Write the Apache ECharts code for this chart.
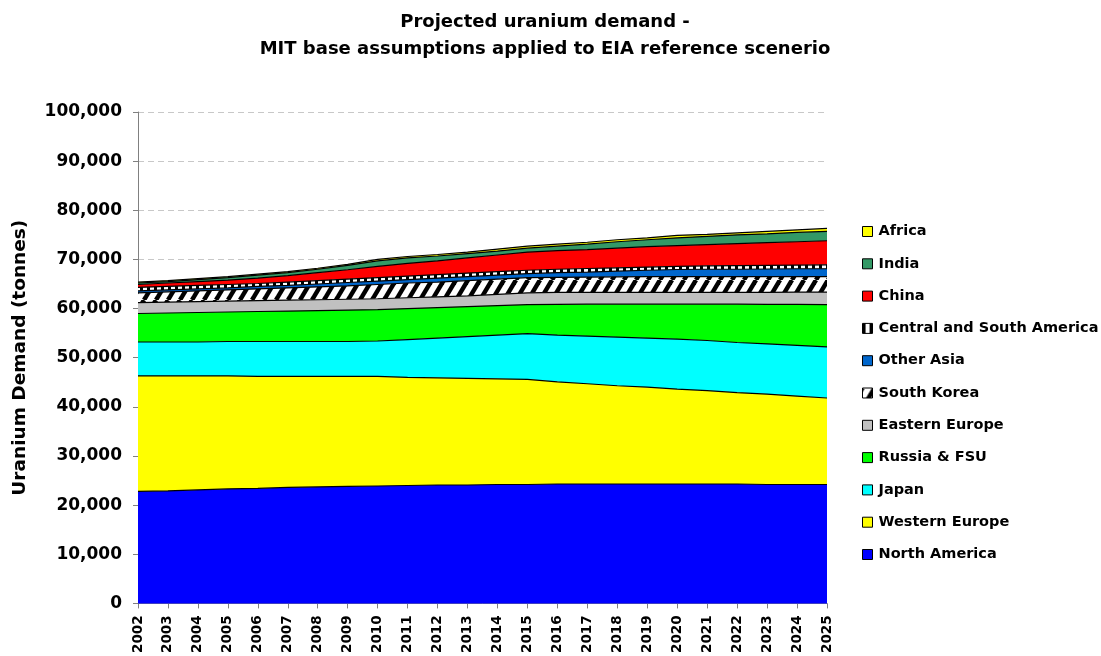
<!DOCTYPE html>
<html>
<head>
<meta charset="utf-8">
<script src="https://cdn.jsdelivr.net/npm/echarts@6/dist/echarts.min.js"></script>
<style>
html,body{margin:0;padding:0;background:#fff;}
#chart{width:1101px;height:656px;}
</style>
</head>
<body>
<div id="chart"></div>
<script>
const years = ['2002','2003','2004','2005','2006','2007','2008','2009','2010','2011','2012','2013','2014','2015','2016','2017','2018','2019','2020','2021','2022','2023','2024','2025'];

const northAmerica = [22800,22900,23100,23300,23400,23600,23700,23800,23900,24000,24100,24100,24200,24200,24300,24300,24300,24300,24300,24300,24300,24200,24200,24200];
const westernEurope = [23500,23400,23200,23000,22800,22600,22500,22400,22300,22000,21800,21700,21500,21400,20800,20400,20000,19700,19300,19000,18600,18400,18000,17600];
const japan = [6900,6900,6900,7000,7100,7100,7100,7100,7200,7700,8100,8500,8900,9300,9500,9700,9900,10000,10200,10200,10200,10200,10300,10400];
const russiaFSU = [5800,5900,6000,6000,6100,6200,6300,6400,6400,6300,6200,6100,6000,5900,6250,6500,6700,6900,7100,7400,7800,8050,8350,8600];
const easternEurope = [2200,2200,2200,2200,2200,2200,2200,2200,2200,2200,2200,2200,2300,2400,2450,2400,2400,2400,2400,2400,2400,2450,2500,2550];
const southKorea = [2000,2100,2200,2300,2400,2500,2600,2700,2900,3000,3000,3100,3100,3100,3050,3100,3150,3200,3200,3200,3200,3200,3150,3150];
const otherAsia = [400,400,400,400,500,500,600,700,700,700,800,800,800,800,950,1000,1150,1300,1450,1500,1500,1550,1600,1600];
const centralSouthAmerica = [700,700,700,700,600,700,700,700,700,700,700,700,700,700,700,750,700,650,650,700,750,750,750,800];
const china = [600,700,800,900,1100,1300,1600,1900,2300,2600,2800,3100,3400,3700,3800,3850,4000,4150,4200,4300,4450,4600,4750,4900];
const india = [300,300,400,500,600,600,700,900,1100,1100,1000,900,800,800,900,1100,1300,1400,1600,1700,1800,1800,1900,1900];
const africa = [200,200,200,200,200,200,200,200,300,300,300,300,400,400,400,400,400,400,500,400,400,500,500,600];

const seriesNames = ['North America','Western Europe','Japan','Russia & FSU','Eastern Europe','South Korea','Other Asia','Central and South America','China','India','Africa'];
const seriesData = [northAmerica,westernEurope,japan,russiaFSU,easternEurope,southKorea,otherAsia,centralSouthAmerica,china,india,africa];

function diagPattern(){
  const W = 12, H = 20;
  const c = document.createElement('canvas');
  c.width = W; c.height = H;
  const g = c.getContext('2d');
  g.fillStyle = '#fff'; g.fillRect(0,0,W,H);
  g.strokeStyle = '#000'; g.lineWidth = 4.5;
  for (let k=-1;k<=1;k++){
    g.beginPath(); g.moveTo(k*W, H); g.lineTo(k*W+W, 0); g.stroke();
  }
  return {image:c, repeat:'repeat'};
}
function vertPattern(){
  const W = 7, H = 4;
  const c = document.createElement('canvas');
  c.width = W; c.height = H;
  const g = c.getContext('2d');
  g.fillStyle = '#000'; g.fillRect(0,0,W,H);
  g.fillStyle = '#fff'; g.fillRect(3,0,4,H);
  return {image:c, repeat:'repeat'};
}

const fills = ['#0000FF','#FFFF00','#00FFFF','#00FF00','#C0C0C0',diagPattern(),'#0066CC',vertPattern(),'#FF0000','#339966','#FFFF00'];

const chart = echarts.init(document.getElementById('chart'), null, {renderer:'canvas'});
const FONT = 'DejaVu Sans, sans-serif';

const series = seriesNames.map((name,i)=>({
  name: name,
  type: 'line',
  stack: 'total',
  data: seriesData[i],
  symbol: 'none',
  z: 20 - i,
  lineStyle: {color:'#000', width:1.2},
  areaStyle: {color: fills[i], opacity:1},
  emphasis: {disabled:true},
  animation: false
}));

const legendData = seriesNames.map((n,i)=>({name:n, itemStyle:{color:fills[i], borderColor:'#000', borderWidth:1}})).reverse();

chart.setOption({
  animation: false,
  backgroundColor: '#fff',
  title: {
    text: 'Projected uranium demand -\nMIT base assumptions applied to EIA reference scenerio',
    left: 540, top: 4, textAlign: 'center',
    textStyle: {fontFamily: FONT, fontWeight:'bold', fontSize:18, lineHeight:27, color:'#000'}
  },
  legend: {
    orient: 'vertical',
    left: 862, top: 224,
    padding: 0,
    icon: 'rect',
    itemWidth: 10, itemHeight: 10,
    itemGap: 17.3,
    data: legendData,
    textStyle: {fontFamily: FONT, fontWeight:'bold', fontSize:14.5, color:'#000', padding:[0,0,0,1]}
  },
  grid: {left:138, top:112, width:689, height:493, containLabel:false},
  xAxis: {
    type: 'category',
    data: years,
    boundaryGap: false,
    axisLine: {lineStyle:{color:'#808080', width:1}},
    axisTick: {show:true, length:5, lineStyle:{color:'#808080'}, alignWithLabel:true},
    axisLabel: {rotate:90, interval:0, margin:12, fontFamily:FONT, fontWeight:'bold', fontSize:13.5, color:'#000'},
    splitLine: {show:false}
  },
  yAxis: {
    type: 'value',
    min: 0, max: 100000, interval: 10000,
    name: 'Uranium Demand (tonnes)',
    nameLocation: 'middle',
    nameGap: 108,
    nameTextStyle: {fontFamily:FONT, fontWeight:'bold', fontSize:18.5, color:'#000'},
    axisLine: {show:true, lineStyle:{color:'#808080', width:1}},
    axisTick: {show:true, length:5, lineStyle:{color:'#808080'}},
    axisLabel: {margin:16, fontFamily:FONT, fontWeight:'bold', fontSize:17, color:'#000'},
    splitLine: {show:true, lineStyle:{color:'#c8c8c8', type:[6,4], width:1}}
  },
  series: series
});
</script>
</body>
</html>
